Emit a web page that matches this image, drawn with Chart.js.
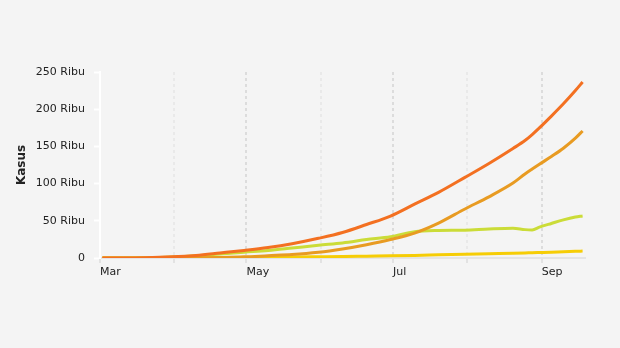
<!DOCTYPE html>
<html lang="id">
<head>
<meta charset="UTF-8">
<title>Kasus</title>
<script src="https://cdn.jsdelivr.net/npm/chart.js"></script>
<style>
  html, body { margin: 0; padding: 0; background: #f4f4f4; }
  #wrap { width: 620px; height: 348px; }
</style>
</head>
<body>
<div id="wrap"><canvas id="grafik" width="620" height="348"></canvas></div>
<script>
// hari sejak 1 Maret 2020
const hari = [1, 9, 19, 30, 40, 50, 60, 70, 80, 91, 101, 111, 121, 131, 141, 152, 162, 172, 177, 180, 183, 188, 193, 198, 201];

const positif = [2, 27, 369, 1528, 3512, 6760, 10118, 14032, 19189, 26473, 34316, 45029, 56385, 72347, 88214, 108376, 127083, 147211, 157859, 165887, 174796, 190665, 207203, 225030, 236519];
const sembuh  = [0, 2, 17, 81, 282, 747, 1522, 3063, 4575, 7637, 12129, 17883, 24806, 33529, 46977, 65907, 82236, 100674, 112867, 119505, 125959, 136401, 147510, 161065, 170774];
const aktif   = [2, 25, 320, 1311, 2924, 5423, 7804, 9996, 13372, 17223, 20228, 24717, 28703, 35349, 36998, 37411, 39082, 40119, 38134, 37700, 41420, 46432, 51237, 55000, 56409];
const meninggal = [0, 0, 32, 136, 306, 590, 792, 973, 1242, 1613, 1959, 2429, 2876, 3469, 4239, 5058, 5765, 6418, 6858, 7169, 7417, 7832, 8456, 8965, 9336];

// awal bulan (hari ke-) dan label
const awalBulan = [0, 31, 61, 92, 122, 153, 184];
const labelBulan = ['Mar', '', 'May', '', 'Jul', '', 'Sep'];
const yTicks = [0, 50000, 100000, 150000, 200000, 250000];

function seri(vals) {
  return hari.map((h, i) => ({ x: h, y: vals[i] }));
}

const fontTick = { family: 'DejaVu Sans', size: 11 };

const config = {
  type: 'line',
  data: {
    datasets: [
      { label: 'Positif', data: seri(positif), borderColor: '#f37021' },
      { label: 'Sembuh', data: seri(sembuh), borderColor: '#e89b22' },
      { label: 'Aktif', data: seri(aktif), borderColor: '#cbdc38' },
      { label: 'Meninggal', data: seri(meninggal), borderColor: '#f6cd06' }
    ]
  },
  options: {
    responsive: false,
    animation: false,
    layout: { padding: { top: 72, right: 35, left: 0, bottom: 0 } },
    elements: {
      point: { radius: 0 },
      line: { borderWidth: 3, cubicInterpolationMode: 'monotone' }
    },
    plugins: { legend: { display: false }, tooltip: { enabled: false } },
    scales: {
      x: {
        type: 'linear',
        min: 0,
        max: 202,
        afterBuildTicks: (s) => { s.ticks = awalBulan.map(v => ({ value: v })); },
        afterFit: (s) => { s.height = 90; },
        ticks: {
          autoSkip: false,
          maxRotation: 0,
          align: 'start',
          padding: 3,
          color: '#222',
          font: fontTick,
          callback: (v, i) => labelBulan[i]
        },
        grid: {
          color: (c) => c.index === 0 ? 'rgba(0,0,0,0)' : (c.index % 2 === 0 ? '#dcdcdc' : '#e9e9e9'),
          lineWidth: 2,
          tickLength: 5,
          tickColor: '#e2e2e2',
          tickWidth: 2
        },
        border: { color: '#e4e4e4', width: 2, dash: [3, 3] }
      },
      y: {
        min: 0,
        max: 250000,
        afterBuildTicks: (s) => { s.ticks = yTicks.map(v => ({ value: v })); },
        afterFit: (s) => { s.width = 100; },
        ticks: {
          padding: 9,
          color: '#222',
          font: fontTick,
          callback: (v) => v === 0 ? '0' : (v / 1000) + ' Ribu'
        },
        grid: {
          drawOnChartArea: false,
          tickLength: 6,
          tickColor: '#ffffff',
          tickWidth: 2
        },
        border: { color: '#ffffff', width: 2 },
        title: {
          display: true,
          text: 'Kasus',
          color: '#222',
          font: { family: 'DejaVu Sans', size: 12, weight: 'bold' },
          padding: { top: 15, bottom: 0 }
        }
      }
    }
  }
};

new Chart(document.getElementById('grafik'), config);
</script>
</body>
</html>
